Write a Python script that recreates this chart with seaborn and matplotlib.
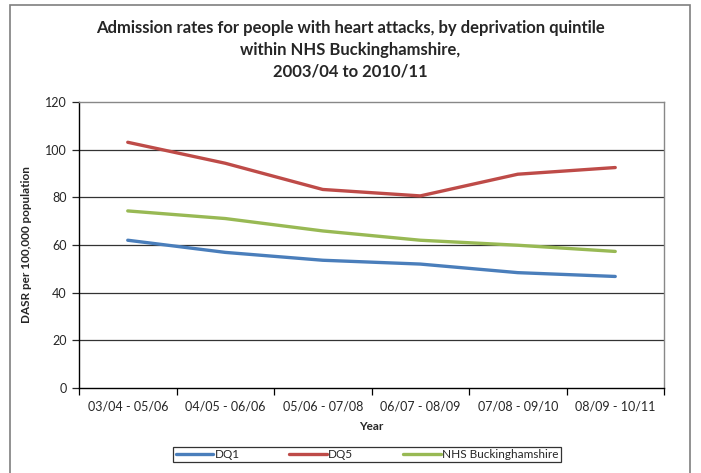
import matplotlib
matplotlib.use("Agg")
import matplotlib.pyplot as plt
import matplotlib.patches as mpatches
import seaborn as sns
import pandas as pd

periods = ["03/04 - 05/06", "04/05 - 06/06", "05/06 - 07/08",
           "06/07 - 08/09", "07/08 - 09/10", "08/09 - 10/11"]
dq1 = [62.0, 56.9, 53.6, 52.0, 48.4, 46.8]
dq5 = [103.1, 94.3, 83.3, 80.6, 89.7, 92.5]
nhs = [74.3, 71.1, 65.9, 62.0, 59.9, 57.3]
series = ["DQ1", "DQ5", "NHS Buckinghamshire"]
colors = ["#4A7EBB", "#BE4B48", "#98B954"]

df = pd.DataFrame({
    "Year": periods * 3,
    "value": dq1 + dq5 + nhs,
    "series": [s for s in series for _ in periods],
})

sns.set_theme(style="white")
plt.rcParams["font.family"] = ["Lato", "DejaVu Sans"]

fig = plt.figure(figsize=(7.01, 4.73), dpi=100)
ax = fig.add_axes([79 / 701, 1 - 388 / 473, (664 - 79) / 701, (388 - 102) / 473])

# outer chart border
fig.patches.append(mpatches.Rectangle((10 / 701, -0.01), 680 / 701, 1.0, transform=fig.transFigure,
                                      fill=False, edgecolor="#7f7f7f", lw=1.2, zorder=0))

for y in range(20, 120, 20):
    ax.axhline(y, color="#333333", lw=0.9, zorder=1)

sns.lineplot(data=df, x="Year", y="value", hue="series", palette=colors,
             linewidth=2.4, ax=ax, legend=False, zorder=3, sort=False)

ax.set_xlim(-0.5, 5.5)
ax.set_ylim(0, 120)
ax.set_yticks(range(0, 121, 20))
ax.set_xticks([i - 0.5 for i in range(7)])
ax.set_xticklabels([])
ax.set_xticks(range(6), minor=True)
ax.set_xticklabels(periods, minor=True)
ax.tick_params(axis="x", which="major", length=5, width=0.9, color="black", direction="out", bottom=True)
ax.tick_params(axis="x", which="minor", length=0, labelsize=9, pad=9)
ax.tick_params(axis="y", length=5, width=0.9, direction="out", left=True, labelsize=9, pad=4)

for side in ["left", "bottom"]:
    ax.spines[side].set_color("black")
    ax.spines[side].set_linewidth(1.0)
for side in ["top", "right"]:
    ax.spines[side].set_color("#888888")
    ax.spines[side].set_linewidth(1.0)

ax.set_xlabel("Year", fontsize=8.5, fontweight="bold", labelpad=6)
ax.set_ylabel("DASR per 100,000 population", fontsize=8.5, fontweight="bold", labelpad=9)

fig.text(350 / 701, 1 - 50 / 473,
         "Admission rates for people with heart attacks, by deprivation quintile\n"
         "within NHS Buckinghamshire,\n2003/04 to 2010/11",
         ha="center", va="center", fontsize=12, fontweight="bold", linespacing=1.45)

handles = [plt.Line2D([], [], color=c, lw=2.4) for c in colors]
leg = fig.legend(handles, series, loc="center", bbox_to_anchor=(367 / 701, 1 - 454.5 / 473),
                 ncol=3, frameon=True, fancybox=False, fontsize=8.5, handlelength=3.2,
                 handletextpad=0.1, columnspacing=4.2, borderpad=0.2, borderaxespad=0)
leg.get_frame().set_edgecolor("black")
leg.get_frame().set_linewidth(0.9)

fig.savefig("out.png", dpi=100)
